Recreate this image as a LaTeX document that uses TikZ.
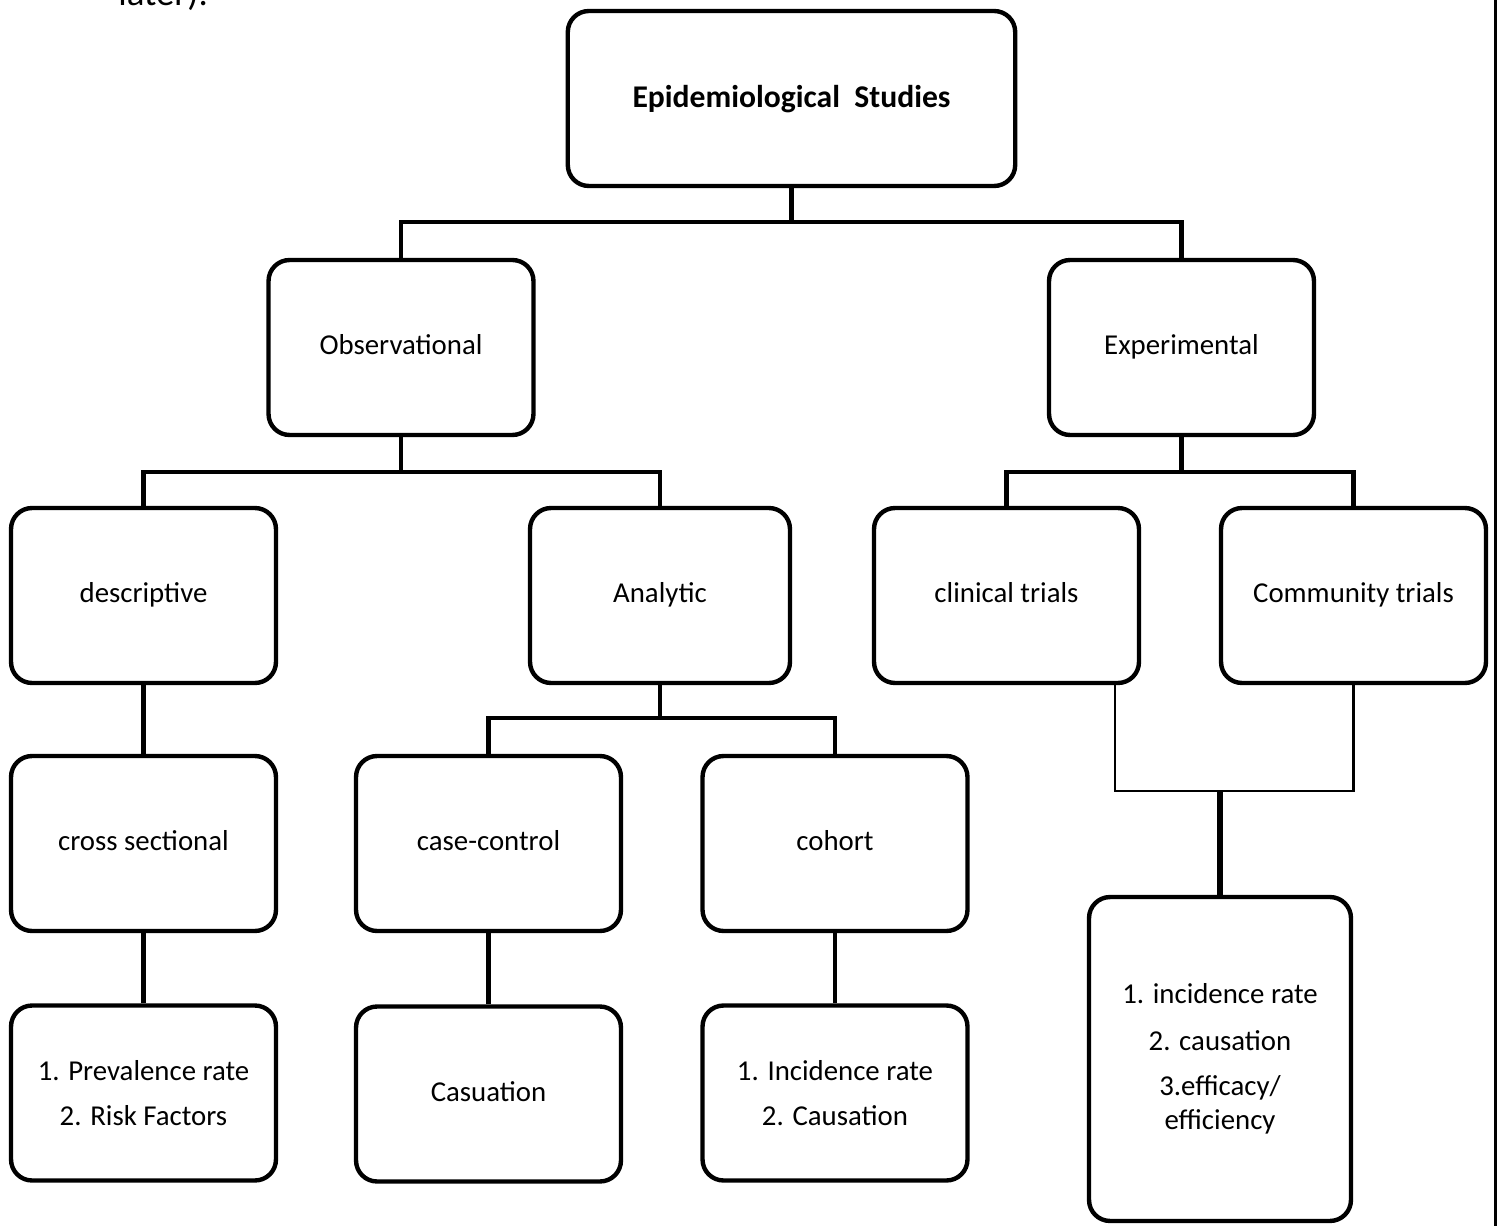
\documentclass[tikz,border=0pt]{standalone}
\usepackage{fontspec}
\setmainfont{Carlito}
\begin{document}
\begin{tikzpicture}[x=0.02cm,y=-0.02cm,
  box/.style={draw, line width=2.5pt, rounded corners=0.42cm, minimum width=5.3cm, minimum height=3.5cm,
    align=center, inner sep=0pt, font=\fontsize{16.4}{19.5}\selectfont},
  single/.style={text height=10pt, text depth=1.5pt},
  conn/.style={line width=2.5pt},
  thinconn/.style={line width=1.6pt}]
\useasboundingbox (0,0) rectangle (1497,1226);

\node[anchor=base west, inner sep=0pt, font=\fontsize{21}{25}\selectfont] (later) at (118,6) {later).};
\draw[line width=1.8pt] (1495.5,-5) -- (1495.5,1231);

% level 0
\node[box, text height=12pt, text depth=1.2pt, minimum width=8.95cm, font=\fontsize{18}{21}\selectfont\bfseries] (top) at (791.5,98.5) {Epidemiological\ \ Studies};
% level 1
\node[box, single] (obs) at (401,347.5) {Observational};
\node[box, single] (exp) at (1181.5,347.5) {Experimental};
% level 2
\node[box, single] (desc) at (143.5,595.5) {descriptive};
\node[box, single, minimum width=5.2cm] (ana) at (660,595.5) {Analytic};
\node[box, single] (clin) at (1006.5,595.5) {clinical trials};
\node[box, single] (comm) at (1353.5,595.5) {Community trials};
% level 3
\node[box, single] (cross) at (143.5,843.5) {cross sectional};
\node[box, single] (cc) at (488.5,843.5) {case-control};
\node[box, single] (coh) at (835,843.5) {cohort};
% level 4
\node[box] (prev) at (143.5,1093) {1. Prevalence rate\\[6.5pt]2. Risk Factors};
\node[box, single] (cas) at (488.5,1094) {Casuation};
\node[box] (inc) at (835,1093) {1. Incidence rate\\[6.5pt]2. Causation};
\node[box, minimum width=5.24cm, minimum height=6.48cm] (fin) at (1220,1059)
  {1. incidence rate\\[7pt]2. causation\\[6.5pt]3.efficacy/\\efficiency};

% connectors
\draw[conn] (top.south) -- (top.south |- 0,222) -| (obs.north);
\draw[conn] (top.south |- 0,222) -| (exp.north);

\draw[conn] (obs.south) -- (obs.south |- 0,472) -| (desc.north);
\draw[conn] (obs.south |- 0,472) -| (ana.north);

\draw[conn] (exp.south) -- (exp.south |- 0,472) -| (clin.north);
\draw[conn] (exp.south |- 0,472) -| (comm.north);

\draw[conn] (desc) -- (cross);
\draw[conn] (cross) -- (prev);

\draw[conn] (ana.south) -- (ana.south |- 0,718) -| (cc.north);
\draw[conn] (ana.south |- 0,718) -| (coh.north);

\draw[conn] (cc) -- (cas);
\draw[conn] (coh) -- (inc);

\draw[thinconn] (1115,0 |- clin.south) |- (comm.south |- 0,791) -- (comm.south);
\draw[line width=3.4pt] (fin.north |- 0,791) -- (fin.north);
\end{tikzpicture}
\end{document}
